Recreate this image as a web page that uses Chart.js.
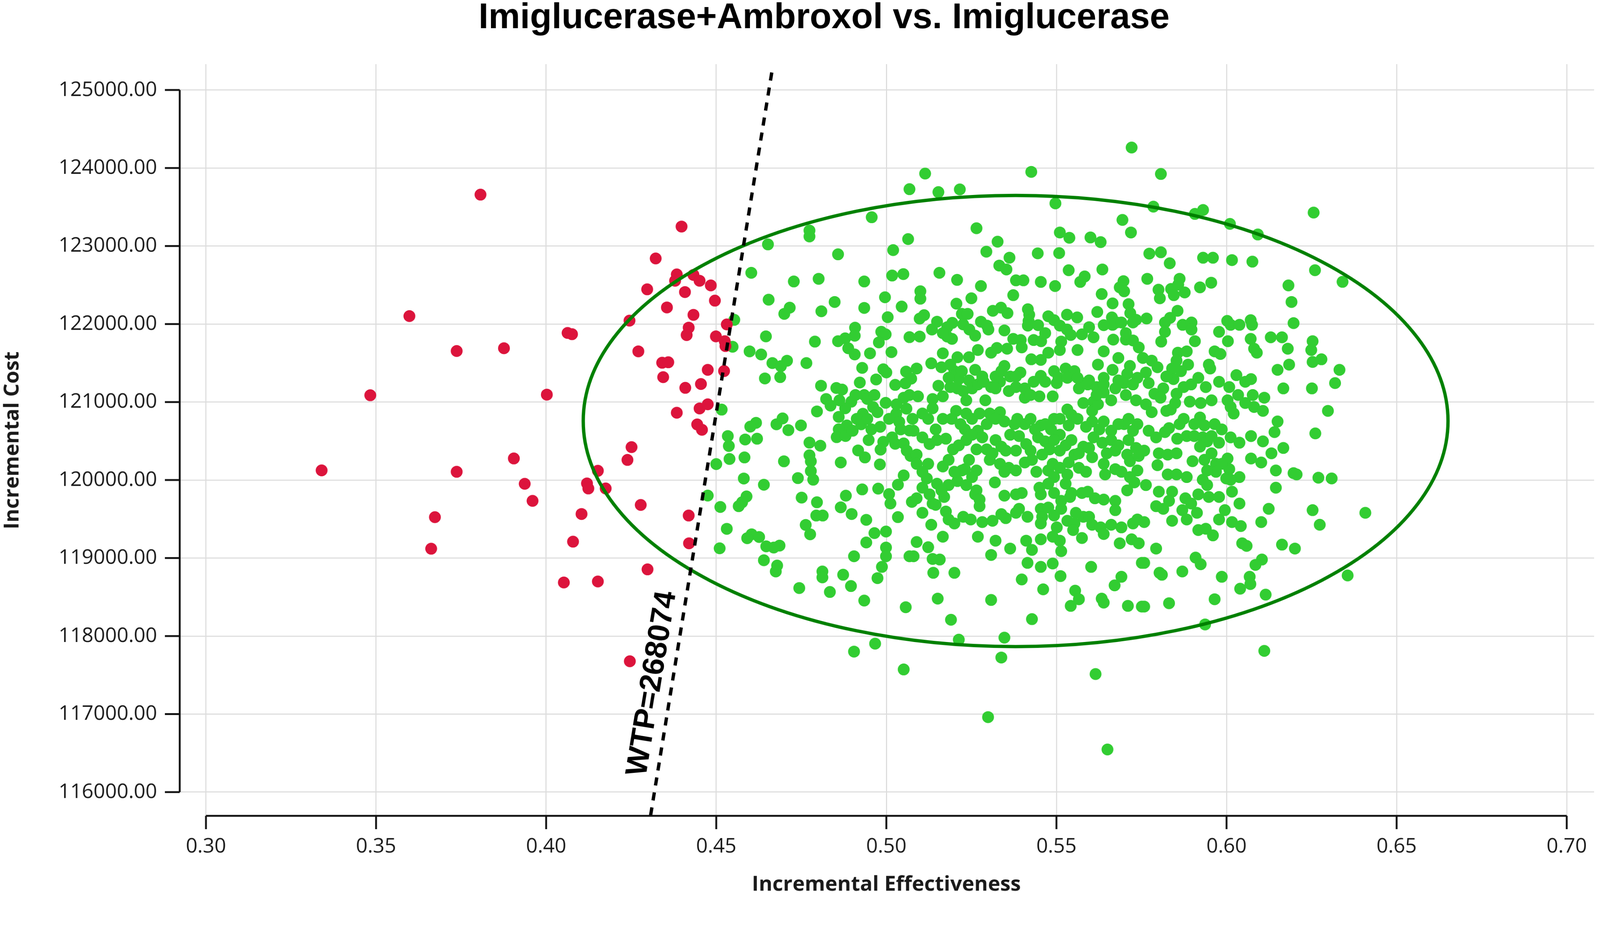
<!DOCTYPE html>
<html>
<head>
<meta charset="utf-8">
<script src="https://cdn.jsdelivr.net/npm/chart.js@4.4.0/dist/chart.umd.min.js"></script>
<style>
  html, body { margin: 0; padding: 0; background: #fff; overflow: hidden; }
  #outer { width: 100vw; height: 100vh; overflow: hidden; position: relative; }
  #wrap { width: 4318px; height: 2421px; position: absolute; left: 0; top: 0; transform-origin: 0 0; }
  #myChart { display: block; }
</style>
</head>
<body>
<div id="outer"><div id="wrap"><canvas id="myChart" width="4318" height="2421"></canvas></div></div>
<script>
const chartTitle = 'Imiglucerase+Ambroxol vs. Imiglucerase';
const xTitle = 'Incremental Effectiveness';
const yTitle = 'Incremental Cost';
const xTicks = [0.30, 0.35, 0.40, 0.45, 0.50, 0.55, 0.60, 0.65, 0.70];
const yTicks = [116000, 117000, 118000, 119000, 120000, 121000, 122000, 123000, 124000, 125000];

const wtpValue = 268074;
const wtpLineX = [0.4307, 0.4666];
const wtpLineY = [115700, 125300];
const wtpLabelAt = [0.4369, 117350];

const ellipseCenter = [0.538, 120757];
const ellipseRadius = [0.1271, 2892];

// simulations left of the WTP line
const redPoints = [
  [0.3807,123659],[0.4398,123250],[0.4322,122841],[0.4384,122636],[0.4379,122555],[0.4433,122630],
  [0.4451,122555],[0.4297,122445],[0.4408,122410],[0.4355,122213],[0.4433,122118],[0.3598,122102],
  [0.4245,122044],[0.4419,121954],[0.4413,121859],[0.4063,121886],[0.4076,121870],[0.3737,121654],
  [0.3876,121690],[0.4271,121650],[0.4341,121504],[0.4359,121510],[0.4344,121319],[0.4455,121231],
  [0.4409,121182],[0.3483,121087],[0.4002,121095],[0.4384,120863],[0.4451,120918],[0.4444,120713],
  [0.4458,120645],[0.4251,120422],[0.4239,120258],[0.3905,120277],[0.3340,120124],[0.3737,120106],
  [0.3937,119952],[0.3960,119733],[0.3673,119524],[0.3662,119120],[0.4152,120119],[0.4120,119957],
  [0.4124,119892],[0.4175,119892],[0.4278,119681],[0.4104,119565],[0.4419,119545],[0.4079,119210],
  [0.4420,119189],[0.4298,118855],[0.4052,118687],[0.4152,118700],[0.4246,117677],[0.4484,122495],
  [0.4496,122300],[0.4531,121995],[0.4499,121842],[0.4525,121780],[0.4527,121718],[0.4475,121413],
  [0.4523,121397],[0.4475,120971]
];

// simulations right of the WTP line
const greenPoints = [
  // upper left
  [0.5068,123729],[0.4957,123369],[0.4774,123199],[0.4774,123123],[0.4652,123021],[0.5064,123089],
  [0.5020,122948],[0.4858,122894],[0.4603,122657],[0.4728,122546],[0.4801,122580],[0.4935,122546],
  [0.5017,122622],[0.5050,122640],[0.4654,122312],[0.4716,122210],[0.4700,122131],[0.4809,122164],
  [0.4848,122283],[0.4935,122207],[0.4996,122343],[0.5045,122224],[0.5004,122088],[0.4553,122054],
  [0.4646,121842],[0.4908,121953],[0.4907,121850],[0.4879,121817],[0.4858,121780],[0.4985,121901],
  [0.4998,121868],[0.5068,121832],[0.4790,121775],[0.4978,121765],
  // upper middle
  [0.5721,124263],[0.5426,123951],[0.5114,123929],[0.5153,123691],[0.5216,123726],[0.5497,123547],
  [0.5694,123335],[0.5719,123174],[0.5265,123228],[0.5327,123056],[0.5510,123174],[0.5538,123106],
  [0.5600,123110],[0.5630,123050],[0.5294,122928],[0.5445,122906],[0.5508,122910],[0.5362,122851],
  [0.5332,122750],[0.5353,122700],[0.5156,122657],[0.5536,122690],[0.5635,122700],[0.5208,122566],
  [0.5278,122487],[0.5381,122560],[0.5403,122560],[0.5454,122540],[0.5496,122487],[0.5583,122610],
  [0.5570,122540],[0.5697,122550],[0.5686,122470],[0.5699,122420],[0.5633,122385],[0.5373,122370],
  [0.5100,122420],[0.5100,122325],[0.5250,122330],[0.5206,122261],[0.5665,122265],[0.5712,122255],
  [0.5111,122114],[0.5098,122070],[0.5222,122130],[0.5239,122130],[0.5313,122170],[0.5337,122210],
  [0.5356,122140],[0.5416,122190],[0.5420,122120],[0.5418,122040],[0.5476,122100],[0.5493,122050],
  [0.5531,122120],[0.5561,122085],[0.5620,122155],[0.5663,122085],[0.5677,122020],[0.5717,122140],
  [0.5734,122055],[0.5149,122030],[0.5179,121960],[0.5194,122015],[0.5226,121995],[0.5244,121930],
  [0.5134,121930],[0.5278,122030],[0.5296,121980],[0.5300,121930],[0.5416,121980],[0.5510,121980],
  [0.5531,121930],[0.5542,121860],[0.5596,121960],[0.5609,121830],[0.5665,121990],[0.5691,122020],
  [0.5725,122020],[0.5193,121810],[0.5179,121840],[0.5373,121810],[0.5395,121795],[0.5433,121795],
  [0.5455,121780],[0.5667,121800],[0.5704,121800],[0.5725,121790],[0.5098,121840],[0.5514,121775],
  [0.5166,121884],[0.5261,121851],[0.5347,121918],[0.5467,121884],[0.5575,121868],[0.5639,121986],
  [0.5446,121986],[0.5704,121884],
  // upper right
  [0.5807,123924],[0.5785,123505],[0.5907,123412],[0.5931,123462],[0.6010,123284],[0.6092,123148],
  [0.6256,123429],[0.5773,122903],[0.5807,122920],[0.5833,122779],[0.5931,122850],[0.5960,122850],
  [0.6016,122820],[0.6076,122800],[0.6260,122690],[0.6341,122541],[0.5767,122580],[0.5862,122580],
  [0.5800,122440],[0.5804,122330],[0.5837,122450],[0.5845,122370],[0.5858,122505],[0.5877,122405],
  [0.5922,122470],[0.5955,122530],[0.6182,122495],[0.6191,122283],[0.6197,122012],[0.5765,122071],
  [0.5856,122170],[0.5834,122080],[0.5819,122020],[0.5871,121990],[0.5897,122020],[0.5897,121930],
  [0.5819,121900],[0.6002,122040],[0.6012,121990],[0.6038,121990],[0.5978,121900],[0.6071,122050],
  [0.6075,121990],[0.6253,121780],[0.6130,121830],[0.6163,121830],[0.6071,121810],[0.6004,121780],
  [0.5907,121780],[0.5808,121775],
  // centre left
  [0.4548,121709],[0.4598,121650],[0.4632,121610],[0.4665,121500],[0.4708,121530],[0.4690,121460],
  [0.4765,121500],[0.4643,121303],[0.4688,121320],[0.4888,121690],[0.4907,121610],[0.4952,121625],
  [0.5015,121640],[0.4929,121438],[0.4991,121420],[0.5000,121380],[0.5058,121390],[0.5073,121300],
  [0.4808,121209],[0.4853,121180],[0.4870,121160],[0.4922,121250],[0.4970,121290],[0.5026,121220],
  [0.5056,121240],[0.4823,121039],[0.4836,120955],[0.4897,121005],[0.4935,121090],[0.4944,121040],
  [0.4961,120935],[0.4998,120990],[0.5051,121055],[0.5068,121090],[0.4516,120903],[0.4796,120880],
  [0.4860,120810],[0.4884,120700],[0.4860,120650],[0.4854,120550],[0.4880,120565],[0.4931,120850],
  [0.4926,120715],[0.4956,120650],[0.4974,120870],[0.5029,120850],[0.5038,120745],[0.5059,120915],
  [0.5068,120635],[0.4617,120734],[0.4600,120685],[0.4677,120715],[0.4695,120790],[0.4712,120640],
  [0.4749,120700],[0.4534,120564],[0.4537,120437],[0.4585,120520],[0.4620,120530],[0.4774,120480],
  [0.4806,120440],[0.4991,120490],[0.5026,120465],[0.5051,120470],[0.4983,120390],[0.4917,120380],
  [0.4937,120290],[0.4774,120318],[0.4778,120240],[0.4539,120270],[0.4583,120290],[0.4500,120205],
  [0.4699,120240],[0.4866,120225],[0.4981,120200],[0.5071,120310],[0.4778,120115],[0.4785,120005],
  [0.4740,120025],[0.4581,120020],[0.4640,119940],[0.5051,120060],[0.5034,119940],[0.4475,119801],
  [0.4589,119790],[0.4576,119715],[0.4566,119665],[0.4512,119655],[0.4751,119775],[0.4796,119715],
  [0.4881,119800],[0.4929,119880],[0.4976,119890],[0.5008,119820],[0.5012,119700],[0.4866,119650],
  [0.4898,119565],[0.5075,119720],[0.4794,119545],[0.4813,119545],[0.4941,119490],[0.5034,119525],
  [0.4763,119425],[0.4776,119305],[0.4531,119375],[0.4604,119305],[0.4626,119270],[0.4591,119255],
  [0.4647,119150],[0.4686,119160],[0.4669,119135],[0.4965,119320],[0.4999,119340],[0.4941,119200],
  [0.4510,119125],[0.4999,119135],
  [0.4879,120920],[0.4913,120785],[0.4944,120785],[0.4901,120632],[0.4982,120683],[0.5008,120785],
  [0.5042,120649],[0.5017,120547],[0.5077,120785],[0.4862,121022],[0.4909,121090],[0.4965,121090],
  [0.5030,120971],[0.5060,120377],[0.4948,120513],
  // centre
  [0.5166,121625],[0.5209,121574],[0.5243,121574],[0.5269,121667],[0.5308,121633],[0.5325,121693],
  [0.5355,121684],[0.5398,121701],[0.5426,121548],[0.5454,121540],[0.5476,121633],[0.5510,121667],
  [0.5562,121667],[0.5639,121650],[0.5682,121565],[0.5716,121463],[0.5742,121701],[0.5089,121430],
  [0.5132,121497],[0.5162,121446],[0.5200,121396],[0.5213,121294],[0.5153,121209],[0.5243,121277],
  [0.5261,121413],[0.5282,121328],[0.5308,121192],[0.5334,121260],[0.5347,121463],[0.5364,121328],
  [0.5394,121379],[0.5454,121336],[0.5493,121396],[0.5527,121430],[0.5553,121396],[0.5575,121243],
  [0.5596,121277],[0.5622,121480],[0.5639,121311],[0.5665,121413],[0.5708,121362],[0.5699,121243],
  [0.5738,121311],[0.5093,121073],[0.5136,121039],[0.5166,121073],[0.5188,121192],[0.5226,121141],
  [0.5235,121022],[0.5291,121022],[0.5321,121175],[0.5360,121141],[0.5381,121192],[0.5407,121056],
  [0.5450,121073],[0.5489,121073],[0.5501,121243],[0.5566,121175],[0.5592,121226],[0.5618,121192],
  [0.5609,121005],[0.5661,121022],[0.5639,121124],[0.5682,121277],[0.5734,121022],[0.5123,120785],
  [0.5166,120785],[0.5145,120649],[0.5205,120887],[0.5235,120853],[0.5252,120785],[0.5231,120649],
  [0.5269,120632],[0.5295,120717],[0.5304,120853],[0.5334,120870],[0.5385,120785],[0.5407,120717],
  [0.5364,120581],[0.5454,120700],[0.5484,120649],[0.5493,120785],[0.5510,120581],[0.5536,120700],
  [0.5544,120836],[0.5532,120904],[0.5605,120887],[0.5605,120751],[0.5626,120649],[0.5661,120632],
  [0.5712,120785],[0.5738,120717],[0.5699,120717],[0.5579,120988],[0.5622,120971],[0.5080,120632],
  [0.5175,120530],[0.5196,120394],[0.5127,120462],[0.5235,120513],[0.5252,120581],[0.5282,120547],
  [0.5265,120394],[0.5321,120513],[0.5338,120428],[0.5351,120377],[0.5411,120462],[0.5390,120564],
  [0.5446,120547],[0.5467,120496],[0.5480,120394],[0.5510,120377],[0.5544,120513],[0.5579,120428],
  [0.5609,120547],[0.5635,120479],[0.5661,120513],[0.5682,120445],[0.5712,120513],[0.5734,120411],
  [0.5708,120326],[0.5648,120343],[0.5553,120326],[0.5089,120326],[0.5458,120326],[0.5089,120208],
  [0.5123,120208],[0.5166,120174],[0.5183,120259],[0.5243,120259],[0.5231,120140],[0.5265,120123],
  [0.5304,120259],[0.5334,120208],[0.5360,120157],[0.5381,120123],[0.5407,120225],[0.5428,120259],
  [0.5476,120123],[0.5489,120208],[0.5536,120225],[0.5566,120157],[0.5605,120293],[0.5639,120208],
  [0.5673,120140],[0.5716,120242],[0.5738,120123],[0.5643,120072],[0.5532,120072],[0.5493,120038],
  [0.5119,120021],[0.5149,119953],[0.5183,119936],[0.5222,120123],[0.5209,119987],[0.5127,119817],
  [0.5089,119766],[0.5136,119699],[0.5170,119783],[0.5265,119868],[0.5261,119817],[0.5274,119750],
  [0.5319,119970],[0.5381,119817],[0.5398,119834],[0.5454,119817],[0.5450,119902],[0.5476,119953],
  [0.5540,119783],[0.5544,119834],[0.5575,119834],[0.5592,119851],[0.5639,119750],[0.5673,119733],
  [0.5673,119614],[0.5729,119970],[0.5527,119953],[0.5145,119682],[0.5175,119597],[0.5200,119444],
  [0.5226,119529],[0.5248,119495],[0.5274,119665],[0.5282,119461],[0.5312,119478],[0.5351,119512],
  [0.5390,119631],[0.5381,119580],[0.5454,119631],[0.5458,119529],[0.5476,119648],[0.5493,119546],
  [0.5514,119631],[0.5532,119478],[0.5553,119444],[0.5579,119529],[0.5605,119427],[0.5630,119393],
  [0.5661,119427],[0.5725,119444],[0.5738,119495],[0.5132,119427],[0.5454,119444],[0.5549,119359],
  [0.5557,119580],[0.5089,119206],[0.5123,119139],[0.5269,119274],[0.5364,119122],[0.5411,119223],
  [0.5454,119240],[0.5510,119223],[0.5639,119308],[0.5686,119189],[0.5721,119240],[0.5742,119189],
  [0.5428,119105],[0.5514,119088],
  [0.5188,121480],[0.5222,121396],[0.5183,121311],[0.5209,121175],[0.5252,121175],[0.5269,121226],
  [0.5286,121260],[0.5321,121328],[0.5338,121396],[0.5381,121328],[0.5407,121175],[0.5424,121090],
  [0.5433,121260],[0.5467,121260],[0.5506,121311],[0.5532,121311],[0.5562,121311],[0.5618,121090],
  [0.5639,121226],[0.5673,121175],[0.5704,121090],[0.5725,121226],[0.5106,120853],[0.5136,120920],
  [0.5192,120785],[0.5218,120717],[0.5274,120853],[0.5321,120785],[0.5347,120751],[0.5377,120717],
  [0.5424,120785],[0.5437,120649],[0.5467,120717],[0.5510,120785],[0.5562,120785],[0.5587,120683],
  [0.5639,120751],[0.5682,120717],[0.5725,120632],[0.5106,120547],[0.5149,120513],[0.5213,120445],
  [0.5295,120394],[0.5312,120343],[0.5381,120377],[0.5424,120377],[0.5493,120513],[0.5527,120445],
  [0.5566,120343],[0.5596,120411],[0.5673,120377],[0.5742,120310],[0.5106,120106],[0.5200,120106],
  [0.5252,120038],[0.5347,120106],[0.5441,120106],[0.5510,120157],[0.5587,120106],[0.5691,120106],
  [0.5716,120038],[0.5106,119902],[0.5162,119868],[0.5235,119936],[0.5347,119800],[0.5493,119834],
  [0.5514,119733],[0.5613,119766],[0.5708,119868],[0.5106,119580],[0.5183,119495],[0.5338,119563],
  [0.5415,119529],[0.5501,119393],[0.5596,119529],[0.5691,119393],[0.5166,119274],[0.5321,119223],
  [0.5489,119274],[0.5575,119257],
  // centre right
  [0.5857,121633],[0.5883,121650],[0.5853,121531],[0.5840,121430],[0.5844,121294],[0.5887,121480],
  [0.5896,121226],[0.5797,121446],[0.5763,121379],[0.5771,121243],[0.5788,121107],[0.5814,121175],
  [0.5853,121107],[0.5754,121565],[0.5965,121650],[0.5982,121616],[0.5948,121480],[0.5952,121430],
  [0.6029,121345],[0.6055,121260],[0.6072,121294],[0.6008,121192],[0.6089,121633],[0.6081,121684],
  [0.6180,121684],[0.6184,121480],[0.6150,121413],[0.6167,121175],[0.6249,121667],[0.6253,121514],
  [0.6279,121548],[0.6251,121175],[0.6332,121413],[0.6319,121243],[0.5892,121005],[0.5924,120988],
  [0.5956,121022],[0.6003,121022],[0.6012,120937],[0.6021,120853],[0.6077,121090],[0.6111,121056],
  [0.6081,120937],[0.6107,120887],[0.6298,120887],[0.5763,120971],[0.5780,120870],[0.5823,120887],
  [0.5836,120904],[0.5922,120802],[0.5935,120700],[0.5965,120717],[0.5986,120649],[0.6150,120751],
  [0.6141,120615],[0.6261,120598],[0.5771,120632],[0.5793,120547],[0.5819,120615],[0.5831,120666],
  [0.5855,120530],[0.5883,120564],[0.5905,120564],[0.5930,120547],[0.5943,120496],[0.5956,120564],
  [0.5978,120479],[0.6012,120547],[0.6038,120479],[0.6072,120564],[0.6107,120496],[0.6167,120411],
  [0.6132,120343],[0.5758,120377],[0.5801,120343],[0.5827,120326],[0.5853,120343],[0.5922,120428],
  [0.5900,120242],[0.5935,120259],[0.5956,120343],[0.5969,120208],[0.6003,120276],[0.6008,120140],
  [0.6072,120276],[0.6102,120225],[0.5969,120106],[0.6145,120123],[0.6197,120089],[0.6206,120072],
  [0.6270,120030],[0.6309,120021],[0.6038,120038],[0.5999,120021],[0.6012,120004],[0.5827,120072],
  [0.5853,120072],[0.5797,120191],[0.5763,119936],[0.5930,120004],[0.5943,119936],[0.5801,119851],
  [0.5840,119851],[0.5879,119766],[0.5917,119817],[0.5948,119783],[0.5978,119783],[0.6016,119851],
  [0.6038,119699],[0.5793,119665],[0.5814,119631],[0.5870,119614],[0.5913,119580],[0.5840,119478],
  [0.5883,119495],[0.5978,119495],[0.5939,119376],[0.5960,119291],[0.5917,119359],[0.6016,119461],
  [0.6042,119410],[0.6102,119461],[0.6124,119631],[0.6145,119902],[0.6253,119614],[0.6274,119427],
  [0.6408,119580],[0.5758,119461],[0.5793,119122],[0.6046,119189],[0.6059,119156],[0.6163,119172],
  [0.6201,119122],
  [0.5780,121531],[0.5823,121328],[0.5866,121396],[0.5874,121192],[0.5806,121056],[0.5849,120988],
  [0.5917,121311],[0.5939,121192],[0.5978,121260],[0.6034,121090],[0.6055,120988],[0.5874,120785],
  [0.5905,120717],[0.5862,120717],[0.5986,120208],[0.5943,120123],[0.5883,120038],[0.5831,119733],
  [0.5896,119699],[0.5995,119614],
  // lower left
  [0.4640,118972],[0.4679,118904],[0.4675,118828],[0.4744,118616],[0.4812,118828],[0.4812,118752],
  [0.4834,118565],[0.4873,118786],[0.4896,118641],[0.4935,118455],[0.4905,119023],[0.4999,119023],
  [0.4987,118887],[0.4974,118743],[0.5068,119023],[0.5057,118370],[0.4905,117801],[0.4967,117903],
  [0.5051,117572],
  // lower middle
  [0.5080,119023],[0.5136,118989],[0.5157,118981],[0.5138,118811],[0.5200,118811],[0.5308,119040],
  [0.5415,118938],[0.5454,118887],[0.5489,118930],[0.5398,118726],[0.5461,118599],[0.5512,118769],
  [0.5602,118887],[0.5691,118760],[0.5671,118650],[0.5751,118938],[0.5151,118480],[0.5308,118463],
  [0.5190,118209],[0.5428,118217],[0.5555,118582],[0.5566,118472],[0.5542,118387],[0.5633,118480],
  [0.5639,118429],[0.5710,118387],[0.5751,118378],[0.5213,117954],[0.5347,117980],[0.5338,117725],
  [0.5615,117513],[0.5299,116961],[0.5650,116546],
  // lower right
  [0.5758,118938],[0.5803,118811],[0.5810,118786],[0.5870,118828],[0.5909,119006],[0.5924,118921],
  [0.5986,118760],[0.6104,118981],[0.6085,118913],[0.6068,118760],[0.6070,118667],[0.6040,118607],
  [0.6115,118531],[0.6356,118777],[0.5831,118421],[0.5758,118378],[0.5965,118472],[0.5937,118149],
  [0.6111,117810]
];

const toXY = p => ({ x: p[0], y: p[1] });

// the page is laid out at 4318x2421 and scaled down if the viewport is narrower
const fit = Math.min(window.innerWidth / 4318, window.innerHeight / 2421);
if (fit < 1) document.getElementById('wrap').style.transform = 'scale(' + fit + ')';

const decorations = {
  id: 'decorations',
  afterDatasetDraw(chart, args) {
    // ellipse goes over the points but under the WTP line
    if (args.index !== 1) return;
    const { ctx, scales: { x, y } } = chart;
    const cx = x.getPixelForValue(ellipseCenter[0]);
    const cy = y.getPixelForValue(ellipseCenter[1]);
    const rx = x.getPixelForValue(ellipseCenter[0] + ellipseRadius[0]) - cx;
    const ry = cy - y.getPixelForValue(ellipseCenter[1] + ellipseRadius[1]);
    ctx.save();
    ctx.beginPath();
    ctx.ellipse(cx, cy, rx, ry, 0, 0, Math.PI * 2);
    ctx.strokeStyle = '#008000';
    ctx.lineWidth = 9;
    ctx.stroke();
    ctx.restore();
  },
  afterDraw(chart) {
    const { ctx, chartArea, scales: { x, y } } = chart;
    ctx.save();

    // axis lines with outer ticks
    ctx.strokeStyle = '#111';
    ctx.lineWidth = 5;
    ctx.beginPath();
    const ax = chartArea.left + 3;
    ctx.moveTo(ax, y.getPixelForValue(yTicks[0]));
    ctx.lineTo(ax, y.getPixelForValue(yTicks[yTicks.length - 1]));
    yTicks.forEach(v => {
      const p = y.getPixelForValue(v);
      ctx.moveTo(ax - 40, p);
      ctx.lineTo(ax, p);
    });
    const ay = chartArea.bottom - 2;
    ctx.moveTo(x.getPixelForValue(xTicks[0]), ay);
    ctx.lineTo(x.getPixelForValue(xTicks[xTicks.length - 1]), ay);
    xTicks.forEach(v => {
      const p = x.getPixelForValue(v);
      ctx.moveTo(p, ay);
      ctx.lineTo(p, ay + 36);
    });
    ctx.stroke();

    // WTP label along the line
    const x0 = x.getPixelForValue(wtpLineX[0]), y0 = y.getPixelForValue(wtpLineY[0]);
    const x1 = x.getPixelForValue(wtpLineX[1]), y1 = y.getPixelForValue(wtpLineY[1]);
    const ang = Math.atan2(y1 - y0, x1 - x0);
    ctx.save();
    ctx.translate(x.getPixelForValue(wtpLabelAt[0]), y.getPixelForValue(wtpLabelAt[1]));
    ctx.rotate(ang);
    ctx.font = 'bold 82px "Liberation Sans", Arial, sans-serif';
    ctx.fillStyle = '#000';
    ctx.textAlign = 'center';
    ctx.textBaseline = 'alphabetic';
    ctx.fillText('WTP=' + wtpValue, 0, -30);
    ctx.restore();

    // title
    ctx.font = 'bold 96px "Liberation Sans", Arial, sans-serif';
    ctx.fillStyle = '#000';
    ctx.textAlign = 'center';
    ctx.textBaseline = 'alphabetic';
    ctx.fillText(chartTitle, 2224, 76);
    ctx.restore();
  }
};

const tickFont = { family: '"Open Sans", sans-serif', size: 55 };
const titleFont = { family: '"Open Sans", sans-serif', size: 56, weight: 'bold' };

const ctx = document.getElementById('myChart').getContext('2d');
const myChart = new Chart(ctx, {
  type: 'scatter',
  data: {
    datasets: [
      {
        label: 'WTP',
        data: [toXY([wtpLineX[0], wtpLineY[0]]), toXY([wtpLineX[1], wtpLineY[1]])],
        showLine: true,
        borderColor: '#000',
        borderWidth: 9,
        borderDash: [22, 19],
        pointRadius: 0,
        order: 0
      },
      {
        label: 'Not cost-effective',
        data: redPoints.map(toXY),
        backgroundColor: '#DC143C',
        borderWidth: 0,
        pointRadius: 16,
        order: 1
      },
      {
        label: 'Cost-effective',
        data: greenPoints.map(toXY),
        backgroundColor: '#32CD32',
        borderWidth: 0,
        pointRadius: 16,
        order: 2
      }
    ]
  },
  options: {
    responsive: false,
    devicePixelRatio: 1,
    animation: false,
    events: [],
    layout: { padding: { top: 173, right: 8, left: 0, bottom: 0 } },
    plugins: { legend: { display: false }, tooltip: { enabled: false }, title: { display: false } },
    scales: {
      x: {
        type: 'linear',
        min: 0.29196,
        max: 0.70804,
        afterBuildTicks: s => { s.ticks = xTicks.map(v => ({ value: v })); },
        afterFit: s => { s.height = 218; s.paddingLeft = 0; s.paddingRight = 0; },
        grid: { color: '#dddddd', lineWidth: 3, drawTicks: false },
        border: { display: false },
        ticks: {
          padding: 48, autoSkip: false, maxRotation: 0, color: '#1a1a1a', font: tickFont,
          callback: v => Number(v).toFixed(2)
        },
        title: { display: true, text: xTitle, color: '#1a1a1a', font: titleFont, padding: 0 }
      },
      y: {
        type: 'linear',
        min: 115686,
        max: 125332,
        afterBuildTicks: s => { s.ticks = yTicks.map(v => ({ value: v })); },
        afterFit: s => { s.width = 482; s.paddingTop = 0; s.paddingBottom = 0; },
        grid: { color: '#dddddd', lineWidth: 3, drawTicks: false },
        border: { display: false },
        ticks: {
          padding: 58, autoSkip: false, color: '#1a1a1a', font: tickFont,
          callback: v => Number(v).toFixed(2)
        },
        title: { display: true, text: yTitle, color: '#1a1a1a', font: titleFont, padding: 0 }
      }
    }
  },
  plugins: [decorations]
});
</script>
</body>
</html>
